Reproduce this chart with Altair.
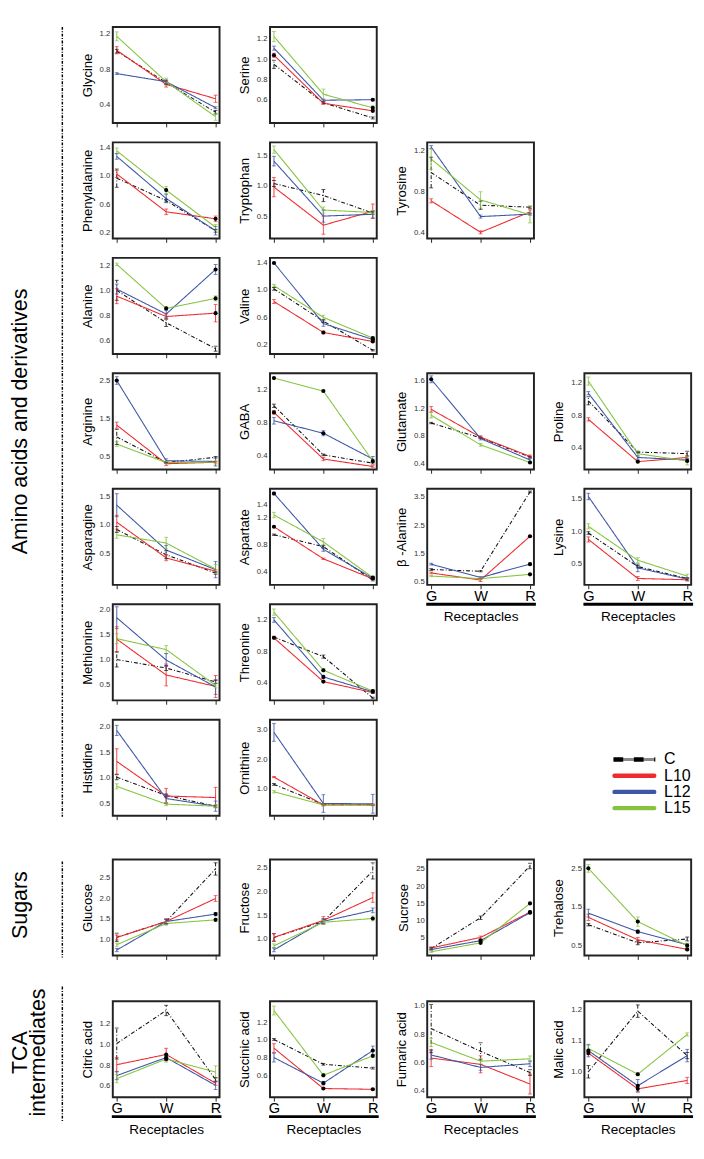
import altair as alt
import pandas as pd

FONT = "Liberation Sans"
GROUPS = ["G", "W", "R"]
SERIES = ["C", "L10", "L12", "L15"]
SERIES_COLORS = ["#111111", "#ee2a2e", "#3d56a6", "#86c440"]
SERIES_DASH = [[4, 2, 1, 2], [1, 0], [1, 0], [1, 0]]

# ---------------- data (means at G, W, R; half error bars; significant points) ----
GLYCINE = {"C": [1.00, 0.65, 0.32], "L10": [1.01, 0.63, 0.47], "L12": [0.75, 0.66, 0.37], "L15": [1.165, 0.66, 0.27]}
GLYCINE_ERR = {"C": [0.02, 0.02, 0.02], "L10": [0.04, 0.03, 0.04], "L12": [0.01, 0.02, 0.01], "L15": [0.05, 0.04, 0.04]}
GLYCINE_SIG = []

SERINE = {"C": [0.95, 0.57, 0.42], "L10": [1.04, 0.565, 0.49], "L12": [1.11, 0.595, 0.60], "L15": [1.225, 0.655, 0.52]}
SERINE_ERR = {"C": [0.04, 0.01, 0.01], "L10": [0.02, 0.01, 0.01], "L12": [0.02, 0.01, 0.01], "L15": [0.05, 0.05, 0.02]}
SERINE_SIG = [("L10", "G"), ("L12", "R"), ("L10", "R"), ("L15", "R")]

PHENYLALANINE = {"C": [0.97, 0.65, 0.22], "L10": [1.03, 0.49, 0.39], "L12": [1.28, 0.68, 0.22], "L15": [1.36, 0.80, 0.27]}
PHENYLALANINE_ERR = {"C": [0.13, 0.02, 0.02], "L10": [0.05, 0.04, 0.04], "L12": [0.04, 0.06, 0.06], "L15": [0.04, 0.05, 0.04]}
PHENYLALANINE_SIG = [("L15", "W"), ("L10", "R")]

TRYPTOPHAN = {"C": [1.04, 0.84, 0.55], "L10": [0.98, 0.35, 0.58], "L12": [1.41, 0.50, 0.53], "L15": [1.60, 0.60, 0.56]}
TRYPTOPHAN_ERR = {"C": [0.05, 0.10, 0.02], "L10": [0.16, 0.15, 0.12], "L12": [0.08, 0.10, 0.06], "L15": [0.06, 0.05, 0.03]}
TRYPTOPHAN_SIG = []

TYROSINE = {"C": [0.985, 0.665, 0.646], "L10": [0.708, 0.40, 0.60], "L12": [1.234, 0.554, 0.578], "L15": [1.117, 0.717, 0.572]}
TYROSINE_ERR = {"C": [0.15, 0.04, 0.01], "L10": [0.02, 0.015, 0.02], "L12": [0.015, 0.015, 0.01], "L15": [0.10, 0.08, 0.08]}
TYROSINE_SIG = []

ALANINE = {"C": [1.00, 0.74, 0.532], "L10": [0.953, 0.79, 0.817], "L12": [1.01, 0.81, 1.167], "L15": [1.208, 0.855, 0.935]}
ALANINE_ERR = {"C": [0.08, 0.03, 0.02], "L10": [0.06, 0.02, 0.07], "L12": [0.04, 0.03, 0.04], "L15": [0.01, 0.01, 0.02]}
ALANINE_SIG = [("L15", "W"), ("L12", "R"), ("L15", "R"), ("L10", "R")]

VALINE = {"C": [1.017, 0.541, 0.11], "L10": [0.83, 0.373, 0.24], "L12": [1.40, 0.504, 0.27], "L15": [1.064, 0.597, 0.29]}
VALINE_ERR = {"C": [0.02, 0.02, 0.01], "L10": [0.03, 0.02, 0.01], "L12": [0.01, 0.04, 0.02], "L15": [0.02, 0.03, 0.02]}
VALINE_SIG = [("L12", "G"), ("L10", "W"), ("L12", "R"), ("L15", "R"), ("L10", "R")]

ARGININE = {"C": [1.01, 0.33, 0.47], "L10": [1.32, 0.30, 0.34], "L12": [2.50, 0.38, 0.36], "L15": [0.82, 0.33, 0.34]}
ARGININE_ERR = {"C": [0.20, 0.02, 0.02], "L10": [0.08, 0.05, 0.02], "L12": [0.10, 0.05, 0.12], "L15": [0.06, 0.03, 0.05]}
ARGININE_SIG = [("L12", "G")]

GABA = {"C": [1.00, 0.41, 0.31], "L10": [0.92, 0.36, 0.27], "L12": [0.82, 0.67, 0.36], "L15": [1.333, 1.177, 0.335]}
GABA_ERR = {"C": [0.02, 0.01, 0.01], "L10": [0.02, 0.02, 0.01], "L12": [0.04, 0.03, 0.03], "L15": [0.01, 0.01, 0.02]}
GABA_SIG = [("L15", "G"), ("L10", "G"), ("L15", "W"), ("L12", "W"), ("L15", "R")]

GLUTAMATE = {"C": [0.986, 0.77, 0.49], "L10": [1.185, 0.78, 0.50], "L12": [1.623, 0.76, 0.447], "L15": [1.10, 0.668, 0.41]}
GLUTAMATE_ERR = {"C": [0.01, 0.01, 0.01], "L10": [0.04, 0.02, 0.02], "L12": [0.05, 0.02, 0.02], "L15": [0.04, 0.02, 0.01]}
GLUTAMATE_SIG = [("L12", "G"), ("L15", "R")]

PROLINE = {"C": [0.98, 0.345, 0.325], "L10": [0.75, 0.226, 0.278], "L12": [1.074, 0.278, 0.246], "L15": [1.224, 0.325, 0.235]}
PROLINE_ERR = {"C": [0.05, 0.01, 0.03], "L10": [0.02, 0.01, 0.02], "L12": [0.02, 0.02, 0.02], "L15": [0.05, 0.03, 0.05]}
PROLINE_SIG = [("L10", "W"), ("L15", "R")]

ASPARAGINE = {"C": [0.923, 0.484, 0.165], "L10": [1.05, 0.43, 0.20], "L12": [1.346, 0.566, 0.225], "L15": [0.83, 0.687, 0.236]}
ASPARAGINE_ERR = {"C": [0.05, 0.07, 0.02], "L10": [0.12, 0.05, 0.02], "L12": [0.20, 0.08, 0.14], "L15": [0.06, 0.10, 0.08]}
ASPARAGINE_SIG = []

ASPARTATE = {"C": [0.947, 0.77, 0.27], "L10": [1.065, 0.588, 0.29], "L12": [1.56, 0.73, 0.30], "L15": [1.24, 0.84, 0.31]}
ASPARTATE_ERR = {"C": [0.01, 0.02, 0.01], "L10": [0.01, 0.01, 0.01], "L12": [0.02, 0.03, 0.02], "L15": [0.04, 0.05, 0.02]}
ASPARTATE_SIG = [("L12", "G"), ("L10", "G"), ("L12", "R"), ("L15", "R")]

BALANINE = {"C": [0.94, 0.88, 3.67], "L10": [0.82, 0.57, 2.11], "L12": [1.13, 0.66, 1.13], "L15": [0.71, 0.62, 0.77]}
BALANINE_ERR = {"C": [0.03, 0.02, 0.03], "L10": [0.03, 0.05, 0.03], "L12": [0.03, 0.03, 0.03], "L15": [0.02, 0.03, 0.02]}
BALANINE_SIG = [("L10", "R"), ("L12", "R"), ("L15", "R")]

LYSINE = {"C": [0.97, 0.446, 0.26], "L10": [0.87, 0.26, 0.24], "L12": [1.54, 0.426, 0.25], "L15": [1.074, 0.545, 0.297]}
LYSINE_ERR = {"C": [0.02, 0.02, 0.01], "L10": [0.04, 0.03, 0.02], "L12": [0.05, 0.06, 0.02], "L15": [0.04, 0.04, 0.03]}
LYSINE_SIG = []

METHIONINE = {"C": [1.00, 0.83, 0.55], "L10": [1.41, 0.69, 0.46], "L12": [1.84, 0.99, 0.45], "L15": [1.42, 1.20, 0.48]}
METHIONINE_ERR = {"C": [0.15, 0.05, 0.03], "L10": [0.25, 0.22, 0.22], "L12": [0.22, 0.13, 0.15], "L15": [0.10, 0.08, 0.05]}
METHIONINE_SIG = []

THREONINE = {"C": [0.98, 0.73, 0.20], "L10": [0.97, 0.41, 0.27], "L12": [1.20, 0.47, 0.28], "L15": [1.30, 0.556, 0.29]}
THREONINE_ERR = {"C": [0.01, 0.02, 0.01], "L10": [0.01, 0.01, 0.01], "L12": [0.03, 0.02, 0.02], "L15": [0.04, 0.02, 0.02]}
THREONINE_SIG = [("L10", "G"), ("L15", "W"), ("L12", "W"), ("L10", "W"), ("L12", "R"), ("L15", "R")]

HISTIDINE = {"C": [1.01, 0.65, 0.44], "L10": [1.32, 0.64, 0.61], "L12": [1.93, 0.59, 0.44], "L15": [0.83, 0.48, 0.44]}
HISTIDINE_ERR = {"C": [0.05, 0.03, 0.02], "L10": [0.25, 0.15, 0.20], "L12": [0.10, 0.08, 0.10], "L15": [0.05, 0.03, 0.03]}
HISTIDINE_SIG = []

ORNITHINE = {"C": [1.14, 0.46, 0.44], "L10": [1.39, 0.44, 0.45], "L12": [2.91, 0.49, 0.48], "L15": [0.89, 0.44, 0.43]}
ORNITHINE_ERR = {"C": [0.03, 0.02, 0.02], "L10": [0.02, 0.03, 0.02], "L12": [0.30, 0.30, 0.32], "L15": [0.04, 0.03, 0.02]}
ORNITHINE_SIG = []

GLUCOSE = {"C": [1.055, 1.44, 2.72], "L10": [1.05, 1.44, 2.00], "L12": [0.745, 1.44, 1.62], "L15": [0.875, 1.39, 1.48]}
GLUCOSE_ERR = {"C": [0.10, 0.05, 0.15], "L10": [0.06, 0.05, 0.07], "L12": [0.04, 0.07, 0.04], "L15": [0.04, 0.04, 0.04]}
GLUCOSE_SIG = [("L12", "R"), ("L15", "R")]

FRUCTOSE = {"C": [1.03, 1.37, 2.43], "L10": [1.033, 1.39, 1.87], "L12": [0.77, 1.37, 1.60], "L15": [0.855, 1.35, 1.43]}
FRUCTOSE_ERR = {"C": [0.08, 0.05, 0.17], "L10": [0.08, 0.08, 0.10], "L12": [0.04, 0.05, 0.05], "L15": [0.04, 0.04, 0.05]}
FRUCTOSE_SIG = [("L15", "R")]

SUCROSE = {"C": [1.74, 10.77, 25.9], "L10": [1.93, 5.0, 12.4], "L12": [1.46, 4.07, 12.25], "L15": [0.81, 3.42, 14.95]}
SUCROSE_ERR = {"C": [0.3, 0.5, 0.8], "L10": [0.3, 0.4, 0.3], "L12": [0.2, 0.3, 0.3], "L15": [0.2, 0.3, 0.3]}
SUCROSE_SIG = [("L12", "W"), ("L15", "W"), ("L15", "R"), ("L12", "R"), ("L10", "R")]

TREHALOSE = {"C": [1.04, 0.57, 0.67], "L10": [1.23, 0.65, 0.40], "L12": [1.34, 0.86, 0.52], "L15": [2.50, 1.12, 0.50]}
TREHALOSE_ERR = {"C": [0.03, 0.05, 0.05], "L10": [0.08, 0.06, 0.03], "L12": [0.10, 0.04, 0.03], "L15": [0.10, 0.12, 0.06]}
TREHALOSE_SIG = [("L15", "G"), ("L15", "W"), ("L12", "W"), ("L15", "R"), ("L10", "R")]

CITRIC = {"C": [1.01, 1.33, 0.66], "L10": [0.805, 0.904, 0.626], "L12": [0.70, 0.874, 0.605], "L15": [0.67, 0.86, 0.734]}
CITRIC_ERR = {"C": [0.15, 0.05, 0.02], "L10": [0.07, 0.06, 0.02], "L12": [0.04, 0.03, 0.04], "L15": [0.04, 0.03, 0.06]}
CITRIC_SIG = [("L10", "W"), ("L12", "W"), ("L15", "W")]

SUCCINIC = {"C": [1.006, 0.724, 0.68], "L10": [0.907, 0.449, 0.44], "L12": [0.80, 0.51, 0.88], "L15": [1.334, 0.60, 0.82]}
SUCCINIC_ERR = {"C": [0.01, 0.01, 0.01], "L10": [0.05, 0.01, 0.01], "L12": [0.05, 0.02, 0.05], "L15": [0.05, 0.02, 0.02]}
SUCCINIC_SIG = [("L15", "W"), ("L12", "W"), ("L10", "W"), ("L12", "R"), ("L15", "R"), ("L10", "R")]

FUMARIC = {"C": [0.84, 0.68, 0.53], "L10": [0.632, 0.588, 0.449], "L12": [0.654, 0.566, 0.592], "L15": [0.742, 0.61, 0.627]}
FUMARIC_ERR = {"C": [0.17, 0.06, 0.02], "L10": [0.06, 0.06, 0.07], "L12": [0.03, 0.02, 0.02], "L15": [0.03, 0.02, 0.02]}
FUMARIC_SIG = []

MALIC = {"C": [1.00, 1.195, 1.052], "L10": [1.06, 0.945, 0.972], "L12": [1.068, 0.955, 1.052], "L15": [1.075, 0.992, 1.12]}
MALIC_ERR = {"C": [0.02, 0.02, 0.01], "L10": [0.005, 0.01, 0.01], "L12": [0.02, 0.02, 0.02], "L15": [0.01, 0.005, 0.005]}
MALIC_SIG = [("L12", "G"), ("L10", "G"), ("L15", "W"), ("L12", "W"), ("L10", "W")]

# name, means, errors, significance, tick values, y domain, tick format, grid row, grid col, x labels
PANELS = [
    ("Glycine", GLYCINE, GLYCINE_ERR, GLYCINE_SIG, [0.4, 0.8, 1.2], [0.2, 1.27], ".1f", 0, 1, False),
    ("Serine", SERINE, SERINE_ERR, SERINE_SIG, [0.6, 0.8, 1.0, 1.2], [0.37, 1.32], ".1f", 0, 2, False),
    ("Phenylalanine", PHENYLALANINE, PHENYLALANINE_ERR, PHENYLALANINE_SIG, [0.2, 0.6, 1.0, 1.4], [0.11, 1.48], ".1f", 1, 1, False),
    ("Tryptophan", TRYPTOPHAN, TRYPTOPHAN_ERR, TRYPTOPHAN_SIG, [0.5, 1.0, 1.5], [0.13, 1.72], ".1f", 1, 2, False),
    ("Tyrosine", TYROSINE, TYROSINE_ERR, TYROSINE_SIG, [0.4, 0.8, 1.2], [0.34, 1.28], ".1f", 1, 3, False),
    ("Alanine", ALANINE, ALANINE_ERR, ALANINE_SIG, [0.6, 0.8, 1.0, 1.2], [0.49, 1.26], ".1f", 2, 1, False),
    ("Valine", VALINE, VALINE_ERR, VALINE_SIG, [0.2, 0.6, 1.0, 1.4], [0.056, 1.475], ".1f", 2, 2, False),
    ("Arginine", ARGININE, ARGININE_ERR, ARGININE_SIG, [0.5, 1.5, 2.5], [0.15, 2.69], ".1f", 3, 1, False),
    ("GABA", GABA, GABA_ERR, GABA_SIG, [0.4, 0.8, 1.2], [0.235, 1.39], ".1f", 3, 2, False),
    ("Glutamate", GLUTAMATE, GLUTAMATE_ERR, GLUTAMATE_SIG, [0.4, 0.8, 1.2, 1.6], [0.31, 1.71], ".1f", 3, 3, False),
    ("Proline", PROLINE, PROLINE_ERR, PROLINE_SIG, [0.4, 0.8, 1.2], [0.13, 1.32], ".1f", 3, 4, False),
    ("Asparagine", ASPARAGINE, ASPARAGINE_ERR, ASPARAGINE_SIG, [0.5, 1.0, 1.5], [-0.04, 1.63], ".1f", 4, 1, False),
    ("Aspartate", ASPARTATE, ASPARTATE_ERR, ASPARTATE_SIG, [0.4, 0.8, 1.2, 1.4], [0.2, 1.63], ".1f", 4, 2, False),
    ("β -Alanine", BALANINE, BALANINE_ERR, BALANINE_SIG, [0.5, 1.5, 2.5, 3.5], [0.4, 3.78], ".1f", 4, 3, True),
    ("Lysine", LYSINE, LYSINE_ERR, LYSINE_SIG, [0.5, 1.0, 1.5], [0.16, 1.66], ".1f", 4, 4, True),
    ("Methionine", METHIONINE, METHIONINE_ERR, METHIONINE_SIG, [0.5, 1.0, 1.5, 2.0], [0.18, 2.11], ".1f", 5, 1, False),
    ("Threonine", THREONINE, THREONINE_ERR, THREONINE_SIG, [0.4, 0.8, 1.2], [0.17, 1.40], ".1f", 5, 2, False),
    ("Histidine", HISTIDINE, HISTIDINE_ERR, HISTIDINE_SIG, [0.5, 1.0, 1.5, 2.0], [0.25, 2.14], ".1f", 6, 1, False),
    ("Ornithine", ORNITHINE, ORNITHINE_ERR, ORNITHINE_SIG, [1.0, 2.0, 3.0], [0.07, 3.34], ".1f", 6, 2, False),
    ("Glucose", GLUCOSE, GLUCOSE_ERR, GLUCOSE_SIG, [1.0, 1.5, 2.0, 2.5], [0.61, 2.95], ".1f", 8, 1, False),
    ("Fructose", FRUCTOSE, FRUCTOSE_ERR, FRUCTOSE_SIG, [1.0, 1.5, 2.0, 2.5], [0.65, 2.67], ".1f", 8, 2, False),
    ("Sucrose", SUCROSE, SUCROSE_ERR, SUCROSE_SIG, [5, 10, 15, 20, 25], [-0.3, 27.8], "d", 8, 3, False),
    ("Trehalose", TREHALOSE, TREHALOSE_ERR, TREHALOSE_SIG, [0.5, 1.5, 2.5], [0.24, 2.73], ".1f", 8, 4, False),
    ("Citric acid", CITRIC, CITRIC_ERR, CITRIC_SIG, [0.6, 0.8, 1.0, 1.2], [0.49, 1.42], ".1f", 10, 1, True),
    ("Succinic acid", SUCCINIC, SUCCINIC_ERR, SUCCINIC_SIG, [0.6, 0.8, 1.0, 1.2], [0.35, 1.44], ".1f", 10, 2, True),
    ("Fumaric acid", FUMARIC, FUMARIC_ERR, FUMARIC_SIG, [0.4, 0.6, 0.8, 1.0], [0.356, 1.033], ".1f", 10, 3, True),
    ("Malic acid", MALIC, MALIC_ERR, MALIC_SIG, [1.0, 1.1, 1.2], [0.918, 1.227], ".1f", 10, 4, True),
]

W, H = 110, 99
LABEL_W = 44
N_ROWS, N_COLS = 11, 5
SPACER_ROWS = {7: 5, 9: 7}
ROW_GAP = 20
AMINO_H = 7 * H + 6 * ROW_GAP

NO_STROKE = alt.ViewBackground(stroke="transparent")


def make_df(mean, err, sig):
    rows = []
    for s in SERIES:
        for i, g in enumerate(GROUPS):
            m, e = mean[s][i], err[s][i]
            rows.append({"series": s, "group": g, "gi": i, "mean": m, "lo": m - e, "hi": m + e,
                         "sig": (s, g) in sig})
    return pd.DataFrame(rows)


def panel(name, mean, err, sig, ticks, domain, fmt, labeled):
    df = make_df(mean, err, sig)
    if labeled:
        xaxis = alt.Axis(labels=True, labelFontSize=15, labelColor="black", labelPadding=0,
                         labelAngle=0, title="Receptacles", titleFontSize=14,
                         titleFontWeight="normal", titleColor="black", titlePadding=7,
                         domain=False, ticks=True, tickSize=4, tickColor="#222", grid=False)
    else:
        xaxis = alt.Axis(labels=False, title="", domain=False, ticks=True, tickSize=4,
                         tickColor="#222", grid=False)
    xscale = alt.Scale(type="point", domain=GROUPS, padding=0.08)
    x = alt.X("group:N", scale=xscale, axis=xaxis)
    yscale = alt.Scale(domain=domain, nice=False, zero=False)
    yaxis = alt.Axis(values=ticks, format=fmt, title=name, titleFontSize=13.5,
                     titleFontWeight="normal", titleColor="black", titlePadding=5,
                     labelFontSize=8, labelColor="#333", labelPadding=3, labelOverlap=False,
                     ticks=False, domain=False, grid=False)
    color = alt.Color("series:N", scale=alt.Scale(domain=SERIES, range=SERIES_COLORS), legend=None)
    dash = alt.StrokeDash("series:N", scale=alt.Scale(domain=SERIES, range=SERIES_DASH), legend=None)
    base = alt.Chart(df)
    lines = base.mark_line(strokeWidth=1.1).encode(
        x=x, y=alt.Y("mean:Q", scale=yscale, axis=yaxis), color=color, strokeDash=dash,
        order=alt.Order("gi:Q"))
    bars = base.mark_rule(strokeWidth=1).encode(
        x=x, y=alt.Y("lo:Q", scale=yscale, axis=yaxis), y2="hi:Q", color=color, strokeDash=dash)
    cap_lo = base.mark_tick(size=4, thickness=1).encode(
        x=x, y=alt.Y("lo:Q", scale=yscale, axis=yaxis), color=color)
    cap_hi = base.mark_tick(size=4, thickness=1).encode(
        x=x, y=alt.Y("hi:Q", scale=yscale, axis=yaxis), color=color)
    dots = base.transform_filter("datum.sig").mark_circle(size=18, color="black", opacity=1).encode(
        x=x, y=alt.Y("mean:Q", scale=yscale, axis=yaxis))
    layers = [lines, bars, cap_lo, cap_hi, dots]
    if labeled:
        underline = alt.Chart(pd.DataFrame({"u": [0]})).mark_rule(strokeWidth=3, color="black").encode(
            x=alt.value(-1), x2=alt.value(W + 2), y=alt.value(H + 20))
        layers.append(underline)
    return alt.layer(*layers).properties(width=W, height=H)


def placeholder(w, h):
    return alt.Chart(pd.DataFrame({"u": [0]})).mark_point(size=0, opacity=0).encode(
        x=alt.value(0), y=alt.value(h)).properties(width=w, height=h, view=NO_STROKE)


def group_label(text, fontsize, tx, ty, ry0, ry1, line_height=None):
    d = pd.DataFrame({"u": [0]})
    kw = dict(text=text, angle=270, fontSize=fontsize, font=FONT, align="center",
              baseline="middle", color="black")
    if line_height:
        kw["lineHeight"] = line_height
    t = alt.Chart(d).mark_text(**kw).encode(x=alt.value(tx), y=alt.value(ty))
    r = alt.Chart(d).mark_rule(strokeWidth=1.5, color="black", strokeDash=[3, 1.5, 1, 1.5]).encode(
        x=alt.value(LABEL_W), y=alt.value(ry0), y2=alt.value(ry1))
    return alt.layer(t, r).properties(width=LABEL_W, height=H, view=NO_STROKE)


def legend_chart():
    d = pd.DataFrame({"series": SERIES, "idx": [0, 1, 2, 3]})
    y = alt.Y("idx:Q", scale=alt.Scale(domain=[0, 3], range=[41, 91]), axis=None)
    base = alt.Chart(d)
    gray = base.transform_filter("datum.series == 'C'").mark_rule(
        strokeWidth=3, color="#8a8a8a").encode(x=alt.value(30), x2=alt.value(73), y=y)
    cdash = base.transform_filter("datum.series == 'C'").mark_rule(
        strokeWidth=4.5, color="black", strokeDash=[10, 11]).encode(x=alt.value(30), x2=alt.value(73), y=y)
    solid = base.transform_filter("datum.series != 'C'").mark_rule(
        strokeWidth=4.5, strokeCap="round").encode(
        x=alt.value(31), x2=alt.value(72), y=y,
        color=alt.Color("series:N", scale=alt.Scale(domain=SERIES, range=SERIES_COLORS), legend=None))
    txt = base.mark_text(align="left", baseline="middle", fontSize=16.5, font=FONT, color="black").encode(
        x=alt.value(82), y=y, text="series:N")
    return alt.layer(gray, cdash, solid, txt).properties(width=W, height=H, view=NO_STROKE)


cells = {}
for (name, mean, err, sig, ticks, domain, fmt, r, c, labeled) in PANELS:
    cells[(r, c)] = panel(name, mean, err, sig, ticks, domain, fmt, labeled)

cells[(0, 0)] = group_label("Amino acids and derivatives", 22, 1, AMINO_H / 2, 0, AMINO_H + 1)
cells[(8, 0)] = group_label("Sugars", 22, 1, 47, 2, 101)
cells[(10, 0)] = group_label(["TCA", "intermediates"], 22, 1, 53, -15, 124, line_height=18)
cells[(6, 4)] = legend_chart()

ordered = []
for r in range(N_ROWS):
    for c in range(N_COLS):
        if (r, c) in cells:
            ordered.append(cells[(r, c)])
        else:
            h = SPACER_ROWS.get(r, 1)
            ordered.append(placeholder(1, h))

chart = alt.concat(
    *ordered, columns=N_COLS, spacing={"row": ROW_GAP, "column": 52},
    bounds="flush", align="each", padding=0, background="white"
).configure_view(
    stroke="#222", strokeWidth=2
).configure_axis(
    labelFont=FONT, titleFont=FONT
).configure_text(font=FONT)

chart.save("out.html", embed_options={"renderer": "svg", "actions": False})
